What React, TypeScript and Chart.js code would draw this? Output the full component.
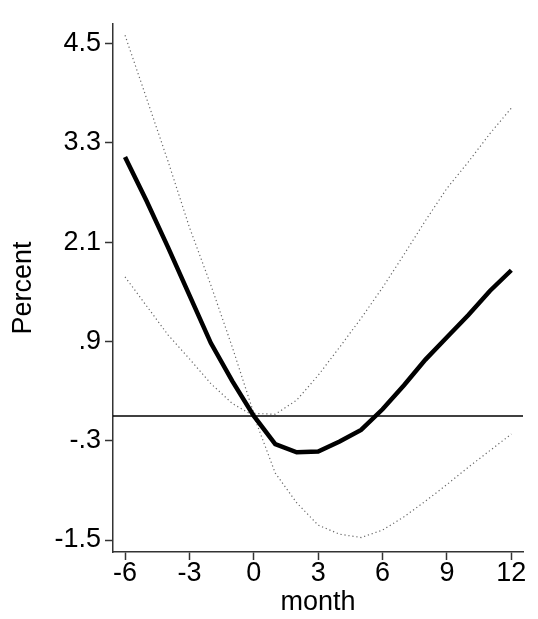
import React, { useEffect, useRef } from "react";
import { Chart, registerables } from "chart.js";

Chart.register(...registerables);

// Data
const months = [-6, -5, -4, -3, -2, -1, 0, 1, 2, 3, 4, 5, 6, 7, 8, 9, 10, 11, 12];
const estimate = [3.13, 2.6, 2.04, 1.46, 0.88, 0.42, 0.0, -0.34, -0.44, -0.43, -0.31, -0.17, 0.08, 0.37, 0.68, 0.95, 1.22, 1.51, 1.76];
const upperCI = [4.6, 3.84, 3.08, 2.28, 1.58, 0.83, 0.03, 0.02, 0.19, 0.49, 0.83, 1.18, 1.55, 1.95, 2.36, 2.75, 3.07, 3.41, 3.72];
const lowerCI = [1.68, 1.33, 0.98, 0.69, 0.39, 0.15, 0.0, -0.69, -1.05, -1.32, -1.43, -1.47, -1.38, -1.22, -1.03, -0.83, -0.62, -0.42, -0.22];

const xTicks = [-6, -3, 0, 3, 6, 9, 12];
const xTickLabels = ["-6", "-3", "0", "3", "6", "9", "12"];
const yTicks = [4.5, 3.3, 2.1, 0.9, -0.3, -1.5];
const yTickLabels = ["4.5", "3.3", "2.1", ".9", "-.3", "-1.5"];
const xRange = [-6.56, 12.545];
const yRange = [-1.645, 4.736];
const refLineY = 0;

const xTitle = "month";
const yTitle = "Percent";

export default function App() {
  const ref = useRef<HTMLCanvasElement>(null);

  useEffect(() => {
    const pts = (ys: number[]) => months.map((m, i) => ({ x: m, y: ys[i] }));
    const family = "'Liberation Sans', Arial, sans-serif";
    const font = { family, size: 27 };
    const xTickFont = { family, size: 27, lineHeight: 1 };
    const axisColor = "#333";
    const ciStyle = {
      borderColor: "#666",
      borderWidth: 1.2,
      borderDash: [1.2, 2.8],
      pointRadius: 0,
      order: 2,
    };

    const chart = new Chart(ref.current as HTMLCanvasElement, {
      type: "line",
      data: {
        datasets: [
          {
            data: pts(estimate),
            borderColor: "#000",
            borderWidth: 4.5,
            pointRadius: 0,
            order: 0,
          },
          {
            data: [
              { x: xRange[0], y: refLineY },
              { x: xRange[1], y: refLineY },
            ],
            borderColor: "#000",
            borderWidth: 1.5,
            pointRadius: 0,
            order: 1,
          },
          { data: pts(upperCI), ...ciStyle },
          { data: pts(lowerCI), ...ciStyle },
        ],
      },
      options: {
        animation: false,
        responsive: true,
        maintainAspectRatio: false,
        layout: { padding: { left: 0, right: 15, top: 24, bottom: 0 } },
        plugins: { legend: { display: false }, tooltip: { enabled: false } },
        scales: {
          x: {
            type: "linear",
            min: xRange[0],
            max: xRange[1],
            afterBuildTicks: (s: any) => {
              s.ticks = xTicks.map((v) => ({ value: v }));
            },
            afterFit: (s: any) => {
              s.height = 67;
            },
            grid: {
              drawOnChartArea: false,
              drawTicks: true,
              tickLength: 8,
              tickColor: axisColor,
              tickWidth: 1.5,
            },
            border: { color: axisColor, width: 1.5 },
            ticks: {
              font: xTickFont,
              color: "#000",
              padding: 0,
              autoSkip: false,
              maxRotation: 0,
              callback: (v: any) => {
                const i = xTicks.indexOf(Number(v));
                return i >= 0 ? xTickLabels[i] : "";
              },
            },
            title: {
              display: true,
              text: xTitle,
              font,
              color: "#000",
              padding: { top: 0, bottom: 0 },
            },
          },
          y: {
            type: "linear",
            min: yRange[0],
            max: yRange[1],
            afterBuildTicks: (s: any) => {
              s.ticks = yTicks.map((v) => ({ value: v }));
            },
            afterFit: (s: any) => {
              s.width = 113;
            },
            grid: {
              drawOnChartArea: false,
              drawTicks: true,
              tickLength: 8,
              tickColor: axisColor,
              tickWidth: 1.5,
            },
            border: { color: axisColor, width: 1.5 },
            ticks: {
              font,
              color: "#000",
              padding: 4,
              autoSkip: false,
              callback: (v: any) => {
                const i = yTicks.findIndex((t) => Math.abs(t - Number(v)) < 1e-6);
                return i >= 0 ? yTickLabels[i] : "";
              },
            },
            title: {
              display: true,
              text: yTitle,
              font,
              color: "#000",
              padding: { top: 7, bottom: 0 },
            },
          },
        },
      },
    });
    return () => chart.destroy();
  }, []);

  return (
    <div style={{ position: "absolute", left: 0, top: 0, width: 538, height: 619, background: "#fff" }}>
      <canvas ref={ref} />
    </div>
  );
}
